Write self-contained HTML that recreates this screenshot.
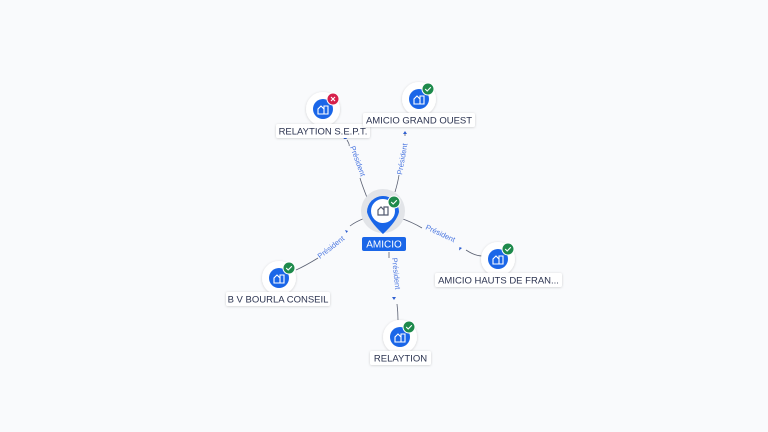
<!DOCTYPE html>
<html><head><meta charset="utf-8"><style>
html,body{margin:0;padding:0;background:#f9fafc;}
svg{display:block;font-family:"Liberation Sans",sans-serif;}
.lbl{font-size:9.5px;fill:#2b3350;}
.el{font-size:7.5px;fill:#4a76e0;}
</style></head><body>
<svg width="768" height="432" viewBox="0 0 768 432" xmlns="http://www.w3.org/2000/svg">
<defs>
<filter id="sh" x="-50%" y="-50%" width="200%" height="200%"><feDropShadow dx="0" dy="0.5" stdDeviation="1.2" flood-color="#000" flood-opacity="0.18"/></filter>
<g id="bld"><path d="M-5,4 V-1 L-2,-4 L1,-1 V4 Z M1,4 V-4 H5 V4 Z" fill="none" stroke="#fff" stroke-width="1.1"/></g>
<g id="ok"><circle r="6" fill="#1e8a4c" stroke="#fff" stroke-width="1"/><path d="M-2.8,0 L-0.8,2 L2.8,-1.8" stroke="#fff" stroke-width="1.1" fill="none"/></g>
<g id="ko"><circle r="6" fill="#d6204b" stroke="#fff" stroke-width="1"/><path d="M-2,-2 L2,2 M2,-2 L-2,2" stroke="#fff" stroke-width="1.1"/></g>
</defs>
<rect width="768" height="432" fill="#f9fafc"/>
<!-- edges -->
<g stroke="#5a6072" stroke-width="0.8" fill="none">
<path d="M368,200 Q362,185 360,178"/><path d="M347,140 Q350,145 349,146"/>
<path d="M395,192 Q398,182 399,175"/><path d="M405,134 L405,136"/>
<path d="M400,218 Q412,222 422,228"/><path d="M466,250 Q475,256 482,256"/>
<path d="M365,218 Q355,222 350,226"/><path d="M318,258 Q305,266 296,270"/>
<path d="M389,252 L389,258"/><path d="M397,304 Q398,312 398,320"/>
</g>
<g fill="#2f5fd0">
<path d="M345,136 l2,3 l-3.5,0z"/>
<path d="M405,131 l2,3 l-4,0z"/>
<path d="M462,248 l-3,2.5 l0.5,-3.5z"/>
<path d="M348,231 l-3,-1 l1.5,3z"/>
<path d="M394,300 l2,-3 l-4,0z"/>
</g>
<text class="el" transform="translate(350,147) rotate(70)">Président</text>
<text class="el" transform="translate(402,175) rotate(-80)">Président</text>
<text class="el" transform="translate(425,229) rotate(25)">Président</text>
<text class="el" transform="translate(320,259) rotate(-38)">Président</text>
<text class="el" transform="translate(392,258) rotate(84)">Président</text>
<!-- center -->
<circle cx="383" cy="211" r="22" fill="#e2e4e8"/>
<path d="M367,212 A16,16 0 1 1 399,212 Q397,221 383,234 Q369,221 367,212 Z" fill="#1a66e8"/>
<circle cx="383" cy="211" r="12" fill="#fff"/>
<g transform="translate(383,211)"><path d="M-5,4 V-1 L-2,-4 L1,-1 V4 Z M1,4 V-4 H5 V4 Z" fill="none" stroke="#555c70" stroke-width="1.2"/></g>
<use href="#ok" x="394" y="202"/>
<rect x="362" y="237" width="44" height="14" rx="2" fill="#1a66e8"/>
<text x="384" y="247.5" text-anchor="middle" font-size="10" fill="#fff">AMICIO</text>
<!-- nodes -->
<g>
<circle cx="323" cy="109" r="17" fill="#fff" filter="url(#sh)"/><circle cx="323" cy="109" r="10" fill="#1a66e8"/><use href="#bld" x="323" y="110"/><use href="#ko" x="333" y="99"/>
<rect x="276" y="124" width="94" height="14" rx="2" fill="#fff" filter="url(#sh)"/><text class="lbl" x="323" y="134.5" text-anchor="middle">RELAYTION S.E.P.T.</text>

<circle cx="419" cy="99" r="17" fill="#fff" filter="url(#sh)"/><circle cx="419" cy="99" r="10" fill="#1a66e8"/><use href="#bld" x="419" y="100"/><use href="#ok" x="428" y="89"/>
<rect x="363" y="113" width="112" height="14" rx="2" fill="#fff" filter="url(#sh)"/><text class="lbl" x="419" y="123.5" text-anchor="middle">AMICIO GRAND OUEST</text>

<circle cx="498" cy="259" r="17" fill="#fff" filter="url(#sh)"/><circle cx="498" cy="259" r="10" fill="#1a66e8"/><use href="#bld" x="498" y="260"/><use href="#ok" x="508" y="249"/>
<rect x="435" y="273" width="127" height="14" rx="2" fill="#fff" filter="url(#sh)"/><text class="lbl" x="498.5" y="283.5" text-anchor="middle">AMICIO HAUTS DE FRAN...</text>

<circle cx="279" cy="278" r="17" fill="#fff" filter="url(#sh)"/><circle cx="279" cy="278" r="10" fill="#1a66e8"/><use href="#bld" x="279" y="279"/><use href="#ok" x="289" y="268"/>
<rect x="226" y="292" width="104" height="14" rx="2" fill="#fff" filter="url(#sh)"/><text class="lbl" x="278" y="302.5" text-anchor="middle">B V BOURLA CONSEIL</text>

<circle cx="400" cy="337" r="17" fill="#fff" filter="url(#sh)"/><circle cx="400" cy="337" r="10" fill="#1a66e8"/><use href="#bld" x="400" y="338"/><use href="#ok" x="409" y="327"/>
<rect x="370" y="351" width="61" height="14" rx="2" fill="#fff" filter="url(#sh)"/><text class="lbl" x="400.5" y="361.5" text-anchor="middle">RELAYTION</text>
</g>
</svg>
</body></html>
